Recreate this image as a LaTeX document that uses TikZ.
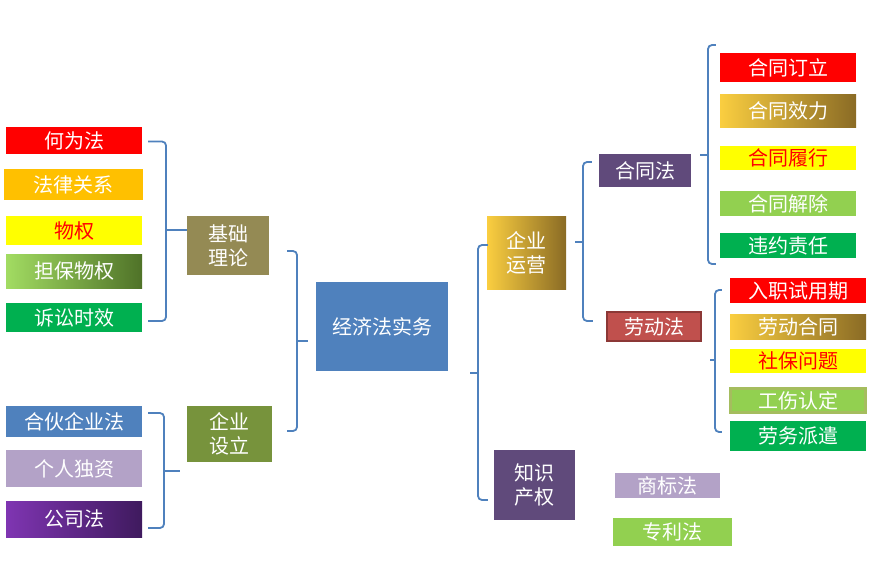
\documentclass[tikz,border=0pt]{standalone}
\usepackage{fontspec}
\setmainfont{Noto Sans CJK SC}
\usepackage{xcolor}
\usepackage{tikz}
\usetikzlibrary{
  calc,
}
\definecolor{braceblue}{HTML}{4F81BD}
\definecolor{lawred}{HTML}{FF0000}
\definecolor{laworange}{HTML}{FFC000}
\definecolor{lawyellow}{HTML}{FFFF00}
\definecolor{lawlime}{HTML}{92D050}
\definecolor{lawgreen}{HTML}{00B050}
\definecolor{basebrown}{HTML}{948A54}
\definecolor{setupolive}{HTML}{77933C}
\definecolor{lavender}{HTML}{B3A2C7}
\definecolor{plum}{HTML}{604A7B}
\definecolor{brick}{HTML}{C0504D}
\definecolor{brickdark}{HTML}{8C3836}
\definecolor{goldlight}{HTML}{FACE40}
\definecolor{golddark}{HTML}{8A6B25}
\definecolor{limelight}{HTML}{A2DC62}
\definecolor{limedark}{HTML}{4F7228}
\definecolor{purplelight}{HTML}{7F35B2}
\definecolor{purpledark}{HTML}{3F1A5E}
\definecolor{limeedge}{HTML}{A5BD5E}

\tikzset{
  box/.style={inner sep=0pt, text=white, align=center,
    font=\fontsize{20}{24}\selectfont},
  leaf/.style={box, minimum width=136pt},
  brace/.style={draw=braceblue, line width=1.8pt, rounded corners=4pt},
}

\begin{document}
\begin{tikzpicture}[x=1pt, y=-1pt]
  \useasboundingbox (0,0) rectangle (882,584);
  % centre
  \node[box, fill=braceblue, minimum width=132pt, minimum height=89pt] (root) at (382,326.5) {经济法实务};
  % left side
  \node[box, fill=basebrown, minimum width=82pt, minimum height=59pt] (jichu) at (228,245.5) {基础\\理论};
  \node[box, fill=setupolive, minimum width=85pt, minimum height=56pt] (sheli) at (229.5,434) {企业\\设立};
  \node[leaf, fill=lawred, minimum height=27pt] (hewei) at (74,140.5) {何为法};
  \node[leaf, fill=laworange, minimum width=139pt, minimum height=31pt] (falv) at (73.5,184.5) {法律关系};
  \node[leaf, fill=lawyellow, text=lawred, minimum height=29pt] (wuquan) at (74,230.5) {物权};
  \node[leaf, left color=limelight, right color=limedark, minimum height=34pt] (danbao) at (74,271) {担保物权};
  \node[leaf, fill=lawgreen, minimum height=29pt] (susong) at (74,317.5) {诉讼时效};
  \node[leaf, fill=braceblue, minimum height=31pt] (hehuo) at (74,421.5) {合伙企业法};
  \node[leaf, fill=lavender, minimum height=37pt] (geren) at (74,468.5) {个人独资};
  \node[leaf, left color=purplelight, right color=purpledark, minimum height=36pt] (gongsi) at (74,519) {公司法};
  % right side
  \node[box, left color=goldlight, right color=golddark, minimum width=79pt, minimum height=73pt] (yunying) at (526.5,252.5) {企业\\运营};
  \node[box, fill=plum, minimum width=81pt, minimum height=70pt] (zhishi) at (534.5,485) {知识\\产权};
  \node[box, fill=plum, minimum width=92pt, minimum height=33pt] (hetongfa) at (645,170.5) {合同法};
  \node[box, fill=brick, draw=brickdark, line width=2.5pt, minimum width=94pt, minimum height=29pt] (laodongfa) at (654,326.5) {劳动法};
  \node[leaf, fill=lawred, minimum height=29pt] (dingli) at (788,67.5) {合同订立};
  \node[leaf, left color=goldlight, right color=golddark, minimum height=33pt] (xiaoli) at (788,110.5) {合同效力};
  \node[leaf, fill=lawyellow, text=lawred, minimum height=24pt] (lvxing) at (788,158) {合同履行};
  \node[leaf, fill=lawlime, minimum height=25pt] (jiechu) at (788,203.5) {合同解除};
  \node[leaf, fill=lawgreen, minimum height=25pt] (weiyue) at (788,245.5) {违约责任};
  \node[leaf, fill=lawred, minimum height=25pt] (ruzhi) at (798,290.5) {入职试用期};
  \node[leaf, left color=goldlight, right color=golddark, minimum height=25pt] (hetong) at (798,326.5) {劳动合同};
  \node[leaf, fill=lawyellow, text=lawred, minimum height=24pt] (shebao) at (798,361) {社保问题};
  \node[leaf, fill=lawlime, draw=limeedge, line width=2.5pt, minimum width=135pt, minimum height=24pt] (gongshang) at (798,400.5) {工伤认定};
  \node[leaf, fill=lawgreen, minimum height=30pt] (laowu) at (798,436) {劳务派遣};
  \node[box, fill=lavender, minimum width=105pt, minimum height=25pt] (shangbiao) at (667.5,485.5) {商标法};
  \node[box, fill=lawlime, minimum width=119pt, minimum height=28pt] (zhuanli) at (672.5,532) {专利法};
  % brace spines
  \coordinate (b1) at (166,230);
  \coordinate (b2) at (164,471);
  \coordinate (b3) at (297,341);
  \coordinate (b4) at (478,373);
  \coordinate (t4) at (470,373);
  \coordinate (b5) at (583,242);
  \coordinate (t5) at (575,242);
  \coordinate (b6) at (708,155);
  \coordinate (t6) at (700,155);
  \coordinate (b7) at (715,360);
  \coordinate (t7) at (710,360);
  % braces
  \draw[brace] ($(hewei.east)+(6,1)$) -| (b1) |- ($(susong.east)+(6,3.5)$);
  \draw[brace] (b1) -- (b1 -| jichu.west);
  \draw[brace] ($(hehuo.east)+(6,-8.5)$) -| (b2) |- ($(gongsi.east)+(6,9)$);
  \draw[brace] (b2) -- ($(b2 -| sheli.west)+(-7,0)$);
  \draw[brace] ($(jichu.east)+(18,5.5)$) -| (b3) |- ($(sheli.east)+(15,-3)$);
  \draw[brace] (b3) -- ($(b3 -| root.west)+(-8,0)$);
  \draw[brace] ($(yunying.west)+(1,-7.5)$) -| (b4) |- ($(zhishi.west)+(-6,15)$);
  \draw[brace] (b4) -- (t4);
  \draw[brace] ($(hetongfa.west)+(-7,-8.5)$) -| (b5) |- ($(laodongfa.west)+(-13,-5.5)$);
  \draw[brace] (b5) -- (t5);
  \draw[brace] ($(dingli.west)+(-4,-22.5)$) -| (b6) |- ($(weiyue.west)+(-4,18.5)$);
  \draw[brace] (b6) -- (t6);
  \draw[brace] ($(ruzhi.west)+(-8,-0.5)$) -| (b7) |- ($(laowu.west)+(-8,-4)$);
  \draw[brace] (b7) -- (t7);
\end{tikzpicture}
\end{document}
